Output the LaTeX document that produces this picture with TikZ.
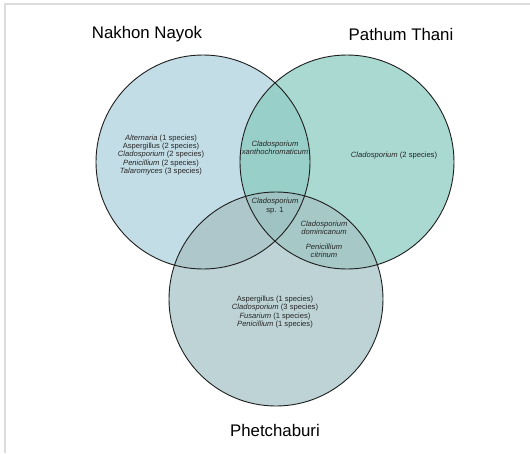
\documentclass[tikz,border=0pt]{standalone}
\usepackage{fontspec}
\setmainfont{Liberation Sans}

\definecolor{nayokfill}{HTML}{C3DDE6}
\definecolor{pathumfill}{HTML}{A9D9D0}
\definecolor{phetfill}{HTML}{BDD3D6}
\definecolor{npfill}{HTML}{98CFC8}
\definecolor{nbfill}{HTML}{ADC7CB}
\definecolor{pbfill}{HTML}{A6C9C8}
\definecolor{allfill}{HTML}{9EC3C2}
\definecolor{framegray}{HTML}{DCDCDC}
\definecolor{rim}{HTML}{1E1E1E}

\begin{document}
\begin{tikzpicture}[x=1pt,y=-1pt,
	region/.style={font=\fontsize{7.6}{8.2}\selectfont, align=center, text=black!85},
	place/.style={font=\fontsize{16.8}{19}\selectfont}]
\useasboundingbox (0,0) rectangle (530,453);
\fill[white] (0,0) rectangle (530,453);
\draw[framegray, line width=1.5pt] (5,453) -- (5,4) -- (530,4);

\def\rad{107}
\coordinate (cn) at (203,162);
\coordinate (cp) at (347,162);
\coordinate (cb) at (276,299);

% the three sets
\fill[nayokfill] (cn) circle (\rad);
\fill[pathumfill] (cp) circle (\rad);
\fill[phetfill] (cb) circle (\rad);

% overlaps
\begin{scope}
	\clip (cn) circle (\rad);
	\fill[npfill] (cp) circle (\rad);
	\fill[nbfill] (cb) circle (\rad);
\end{scope}
\begin{scope}
	\clip (cp) circle (\rad);
	\fill[pbfill] (cb) circle (\rad);
	\clip (cb) circle (\rad);
	\fill[allfill] (cn) circle (\rad);
\end{scope}

\draw[rim, line width=0.9pt] (cn) circle (\rad);
\draw[rim, line width=0.9pt] (cp) circle (\rad);
\draw[rim, line width=0.9pt] (cb) circle (\rad);

\path (147,34) node[place] (nayok) {Nakhon Nayok}
		(401,34) node[place] (pathum) {Pathum Thani}
		(275,430) node[place] (phet) {Phetchaburi}
		(161,155) node[region] (nonly) {\textit{Alternaria} (1 species)\\Aspergillus (2 species)\\\textit{Cladosporium} (2 species)\\\textit{Penicillium} (2 species)\\\textit{Talaromyces} (3 species)}
		(275,148) node[region] (np) {\textit{Cladosporium}\\\textit{xanthochromaticum}}
		(394,156) node[region] (ponly) {\textit{Cladosporium} (2 species)}
		(275,206) node[region] (npb) {\textit{Cladosporium}\\sp. 1}
		(324,228) node[region] (pb1) {\textit{Cladosporium}\\\textit{dominicanum}}
		(324,251) node[region] (pb2) {\textit{Penicillium}\\\textit{citrinum}}
		(275,312) node[region] (bonly) {Aspergillus (1 species)\\\textit{Cladosporium} (3 species)\\\textit{Fusarium} (1 species)\\\textit{Penicillium} (1 species)}
		;
\end{tikzpicture}
\end{document}
